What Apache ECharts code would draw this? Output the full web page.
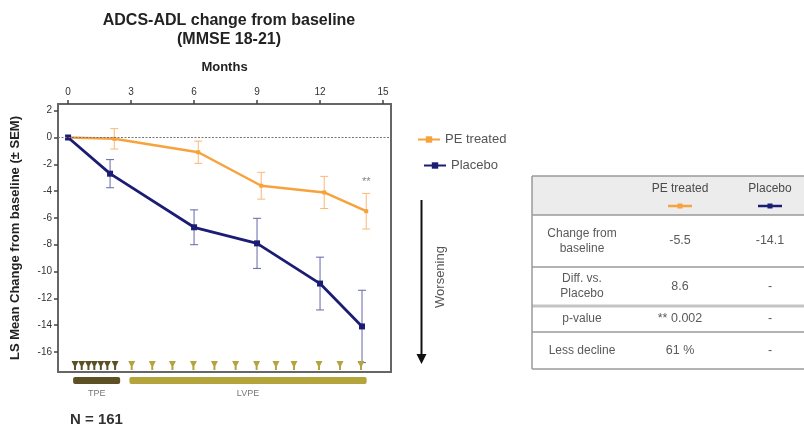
<!DOCTYPE html>
<html><head><meta charset="utf-8">
<script src="https://cdn.jsdelivr.net/npm/echarts@6/dist/echarts.min.js"></script>
<style>html,body{margin:0;padding:0;background:#fff}#c{width:804px;height:428px}</style>
</head><body><div id="c"></div>
<script>
// ---- data ----
const monthTicks = [0, 3, 6, 9, 12, 15];
const yTicks = [2, 0, -2, -4, -6, -8, -10, -12, -14, -16];
const peMonths = [0, 2.2, 6.2, 9.2, 12.2, 14.2];
const peMean = [0, -0.1, -1.1, -3.6, -4.1, -5.5];
const peSem = [0, 0.76, 0.83, 1.0, 1.2, 1.33];
const plMonths = [0, 2, 6, 9, 12, 14];
const plMean = [0, -2.7, -6.7, -7.9, -10.9, -14.1];
const plSem = [0, 1.05, 1.3, 1.87, 1.97, 2.7];
const tpeVisits = [0.33, 0.65, 0.97, 1.25, 1.56, 1.87, 2.24];
const lvpeVisits = [3.03, 4.01, 4.97, 5.97, 6.97, 7.98, 8.98, 9.9, 10.76, 11.95, 12.95, 13.95];
const phaseNames = ['TPE', 'LVPE'];
const phaseStart = [0.24, 2.92];
const phaseEnd = [2.48, 14.22];
const sigMonth = 14.2, sigValue = -3.3, sigText = '**';
const tableHeader = ['', 'PE treated', 'Placebo'];
const tableRows = [
  ['Change from\nbaseline', '-5.5', '-14.1'],
  ['Diff. vs.\nPlacebo', '8.6', '-'],
  ['p-value', '** 0.002', '-'],
  ['Less decline', '61 %', '-']
];

// ---- styles ----
const FONT = 'Arial, "Liberation Sans", sans-serif';
const ORANGE = '#f7a23c', ORANGE_L = '#f9b877';
const NAVY = '#1b1c74', NAVY_L = '#6567a8';
const OLIVE_D = '#5c5024', OLIVE_L = '#b5a43c';
const xMin = -0.48, xMax = 15.38, yMin = -17.5, yMax = 2.5;

const chart = echarts.init(document.getElementById('c'), null, {renderer: 'canvas'});

function errRender(color) {
  return function (params, api) {
    const x = api.value(0), m = api.value(1), s = api.value(2);
    if (!s) return null;
    const t = api.coord([x, m + s]), b = api.coord([x, m - s]);
    const w = 4;
    const st = {stroke: color, lineWidth: 1};
    return {type: 'group', children: [
      {type: 'line', shape: {x1: t[0], y1: t[1], x2: b[0], y2: b[1]}, style: st},
      {type: 'line', shape: {x1: t[0] - w, y1: t[1], x2: t[0] + w, y2: t[1]}, style: st},
      {type: 'line', shape: {x1: b[0] - w, y1: b[1], x2: b[0] + w, y2: b[1]}, style: st}
    ]};
  };
}

const visitData = tpeVisits.map(v => [v, 1]).concat(lvpeVisits.map(v => [v, 0]));
const phaseData = phaseNames.map((n, i) => [phaseStart[i], phaseEnd[i], i]);

// table graphic
const tX0 = 532, tX1 = 806;
const colX = [582, 680, 770];
const rowLines = [176, 215, 267, 306, 332, 369];
const tableEls = [];
tableEls.push({type: 'rect', shape: {x: tX0, y: rowLines[0], width: tX1 - tX0, height: rowLines[1] - rowLines[0]}, style: {fill: '#ececec'}});
rowLines.forEach((y, i) => {
  tableEls.push({type: 'line', shape: {x1: tX0, y1: y, x2: tX1, y2: y}, style: {stroke: i === 3 ? '#c4c4c4' : '#9a9a9a', lineWidth: i === 3 ? 3 : 1.5}});
});
tableEls.push({type: 'line', shape: {x1: tX0, y1: rowLines[0], x2: tX0, y2: rowLines[5]}, style: {stroke: '#9a9a9a', lineWidth: 1.5}});
tableHeader.forEach((h, j) => {
  if (!h) return;
  tableEls.push({type: 'text', x: colX[j], y: 189, style: {text: h, font: '12px ' + FONT, fill: '#4a4a4a', align: 'center', verticalAlign: 'middle'}});
});
[[ORANGE, 680], [NAVY, 770]].forEach(([c, x]) => {
  tableEls.push({type: 'line', shape: {x1: x - 12, y1: 206, x2: x + 12, y2: 206}, style: {stroke: c, lineWidth: 2.5}});
  tableEls.push({type: 'rect', shape: {x: x - 2.5, y: 203.5, width: 5, height: 5}, style: {fill: c}});
});
tableRows.forEach((row, i) => {
  const cy = (rowLines[i + 1] + rowLines[i + 2]) / 2;
  row.forEach((cell, j) => {
    tableEls.push({type: 'text', x: colX[j], y: cy, style: {text: cell, font: (j === 0 ? '12px ' : '12.5px ') + FONT, fill: '#5a5a5a', align: 'center', verticalAlign: 'middle', lineHeight: 15}});
  });
});

const legendCommon = {
  orient: 'vertical', itemWidth: 22, itemHeight: 8,
  textStyle: {fontFamily: FONT, fontSize: 13, color: '#555'}
};

const option = {
  animation: false,
  backgroundColor: '#fff',
  title: {
    text: 'ADCS-ADL change from baseline\n(MMSE 18-21)',
    left: 224, top: 6, textAlign: 'center',
    textStyle: {fontFamily: FONT, fontSize: 16, fontWeight: 'bold', color: '#222', lineHeight: 19}
  },
  legend: [
    Object.assign({data: ['PE treated'], left: 412, top: 128}, legendCommon),
    Object.assign({data: ['Placebo'], left: 418, top: 154}, legendCommon)
  ],
  grid: {left: 58, right: 413, top: 104, bottom: 56, show: true, borderColor: '#666', borderWidth: 2, backgroundColor: 'transparent'},
  xAxis: {
    type: 'value', position: 'top', min: xMin, max: xMax,
    name: 'Months', nameLocation: 'middle', nameGap: 30,
    nameTextStyle: {fontFamily: FONT, fontSize: 13, fontWeight: 'bold', color: '#222'},
    axisLine: {show: true, onZero: false, lineStyle: {color: '#666', width: 2}},
    axisTick: {show: true, length: 4, lineStyle: {color: '#444', width: 1.5}, customValues: monthTicks},
    axisLabel: {customValues: monthTicks, fontFamily: FONT, fontSize: 10, color: '#333', margin: 7},
    splitLine: {show: false}
  },
  yAxis: {
    type: 'value', min: yMin, max: yMax,
    name: 'LS Mean Change from baseline (± SEM)', nameLocation: 'middle', nameGap: 36,
    nameTextStyle: {fontFamily: FONT, fontSize: 13, fontWeight: 'bold', color: '#222'},
    axisLine: {show: true, onZero: false, lineStyle: {color: '#666', width: 2}},
    axisTick: {show: true, length: 4, lineStyle: {color: '#444', width: 1.5}, customValues: yTicks},
    axisLabel: {customValues: yTicks, fontFamily: FONT, fontSize: 10, color: '#333', margin: 6},
    splitLine: {show: false}
  },
  graphic: [
    {type: 'line', shape: {x1: 421.5, y1: 200, x2: 421.5, y2: 356}, style: {stroke: '#111', lineWidth: 2}},
    {type: 'polygon', shape: {points: [[416.5, 354], [426.5, 354], [421.5, 364]]}, style: {fill: '#111'}},
    {type: 'text', x: 440, y: 277, rotation: Math.PI / 2, style: {text: 'Worsening', font: '13px ' + FONT, fill: '#555', align: 'center', verticalAlign: 'middle'}},
    {type: 'text', x: 70, y: 420, style: {text: 'N = 161', font: 'bold 15px ' + FONT, fill: '#333', verticalAlign: 'middle'}},
    {type: 'group', children: tableEls}
  ],
  series: [
    {
      name: 'zero', type: 'line', data: [], silent: true,
      markLine: {silent: true, symbol: 'none', label: {show: false},
        lineStyle: {color: '#777', type: [2, 1.5], width: 1}, data: [{yAxis: 0}]}
    },
    {
      name: 'PE err', type: 'custom', renderItem: errRender(ORANGE_L), encode: {x: 0, y: 1},
      data: peMonths.map((x, i) => [x, peMean[i], peSem[i]]), z: 2
    },
    {
      name: 'Placebo err', type: 'custom', renderItem: errRender(NAVY_L), encode: {x: 0, y: 1},
      data: plMonths.map((x, i) => [x, plMean[i], plSem[i]]), z: 2
    },
    {
      name: 'PE treated', type: 'line', data: peMonths.map((x, i) => [x, peMean[i]]),
      symbol: 'rect', symbolSize: 4, showSymbol: true,
      lineStyle: {color: ORANGE, width: 2.5}, itemStyle: {color: ORANGE}, z: 3
    },
    {
      name: 'Placebo', type: 'line', data: plMonths.map((x, i) => [x, plMean[i]]),
      symbol: 'rect', symbolSize: 6, showSymbol: true,
      lineStyle: {color: NAVY, width: 2.8}, itemStyle: {color: NAVY}, z: 4
    },
    {
      name: 'sig', type: 'scatter', data: [[sigMonth, sigValue]], symbolSize: 0,
      label: {show: true, formatter: sigText, position: 'inside', fontFamily: FONT, fontSize: 11, color: '#666'}
    },
    {
      name: 'visits', type: 'custom', clip: false, encode: {x: 0},
      data: visitData,
      renderItem: function (params, api) {
        const p = api.coord([api.value(0), yMin]);
        const c = api.value(1) ? OLIVE_D : OLIVE_L;
        const cx = p[0], by = p[1] - 2;
        return {type: 'polygon', shape: {points: [[cx - 3.5, by - 9], [cx + 3.5, by - 9], [cx + 1, by - 4], [cx + 1, by], [cx - 1, by], [cx - 1, by - 4]]}, style: {fill: c}};
      }
    },
    {
      name: 'phases', type: 'custom', clip: false, encode: {x: [0, 1]},
      data: phaseData,
      renderItem: function (params, api) {
        const a = api.coord([api.value(0), yMin]);
        const b = api.coord([api.value(1), yMin]);
        const i = api.value(2);
        const c = i === 0 ? OLIVE_D : OLIVE_L;
        return {type: 'group', children: [
          {type: 'rect', shape: {x: a[0], y: a[1] + 5, width: b[0] - a[0], height: 7, r: 2}, style: {fill: c}},
          {type: 'text', x: (a[0] + b[0]) / 2, y: a[1] + 22, style: {text: phaseNames[i], font: '9px ' + FONT, fill: '#777', align: 'center', verticalAlign: 'middle'}}
        ]};
      }
    }
  ]
};
chart.setOption(option);
</script></body></html>
